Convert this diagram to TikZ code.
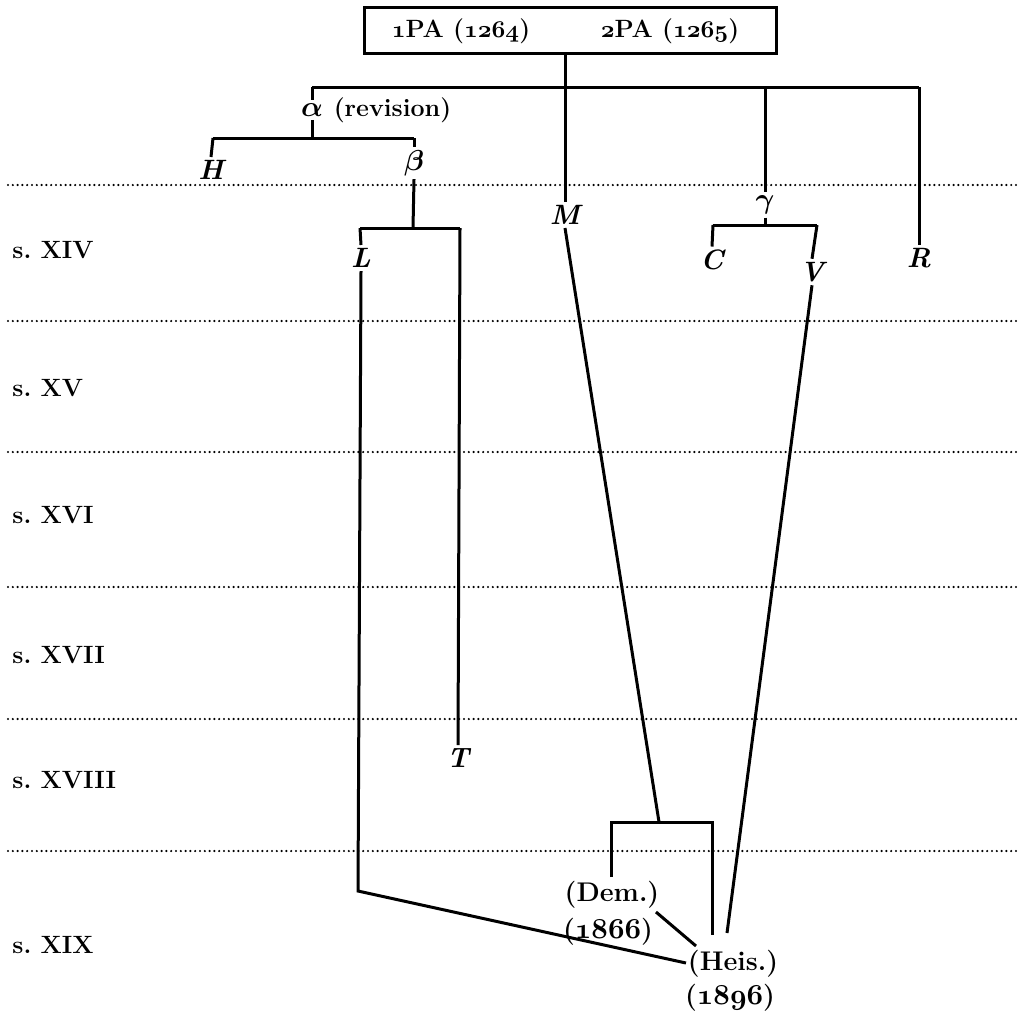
\documentclass[tikz,border=0pt]{standalone}
\usepackage{bm}
\newcommand\osn[1]{{\fontencoding{OML}\fontfamily{cmm}\fontseries{b}\fontshape{it}\selectfont #1}}
\begin{document}
\begin{tikzpicture}[x=0.5pt,y=-0.5pt,
  lbl/.style={inner sep=1.5pt, font=\fontsize{12.5}{14}\selectfont\bfseries},
  big/.style={inner sep=1.5pt, font=\fontsize{13.5}{15}\selectfont\bfseries},
  ms/.style={inner sep=1.5pt, font=\fontsize{14}{16}\selectfont\bfseries\itshape},
  edge/.style={line width=1.5pt},
  era/.style={line width=1.2pt, dash pattern=on 0pt off 2.4pt, line cap=round},
  century/.style={inner sep=0pt, anchor=west, font=\fontsize{12.5}{14}\selectfont\bfseries}]
\useasboundingbox (0,0) rectangle (1021,1014);
\fill[white] (0,0) rectangle (1021,1014);

% century separators
\foreach \y/\n in {185/a,321/b,452/c,587/d,719/e,851/f} {
  \coordinate (e\n l) at (8,\y);
  \coordinate (e\n r) at (1018,\y);
  \draw[era] (e\n l) -- (e\n r);
}
\node[century] (c14) at (12,250) {s.\ XIV};
\node[century] (c15) at (12,388) {s.\ XV};
\node[century] (c16) at (12,515) {s.\ XVI};
\node[century] (c17) at (12,655) {s.\ XVII};
\node[century] (c18) at (12,780) {s.\ XVIII};
\node[century] (c19) at (12,945) {s.\ XIX};

% archetype box
\node[draw, line width=1.5pt, minimum width=206pt, minimum height=23pt, inner sep=0pt] (box) at (570,30) {};
\node[lbl] (pa1) at (461,31) {\osn{1}PA (\osn{1264})};
\node[lbl] (pa2) at (670,31) {\osn{2}PA (\osn{1265})};

% labels
\node[ms] (alpha) at (312,110) {$\bm\alpha$};
\node[lbl, anchor=base west] (rev) at ([xshift=2pt]alpha.base east) {(revision)};
\node[ms] (H) at (211,170) {H};
\node[ms] (beta) at (414,163) {$\bm\beta$};
\node[ms] (M) at (565,215) {M};
\node[ms] (gam) at (765,205) {$\bm\gamma$};
\node[ms] (C) at (712,260) {C};
\node[ms] (V) at (812,272) {V};
\node[ms] (R) at (919,258) {R};
\node[ms] (L) at (361,258) {L};
\node[ms] (T) at (458,758) {T};
\node[big] (dem) at (612,895) {(Dem.)};
\node[big] (d66) at (608,932) {(\osn{1866})};
\node[big] (heis) at (733,964) {(Heis.)};
\node[big] (h96) at (730,998) {(\osn{1896})};

% joints
\coordinate (j0) at (565,53);
\coordinate (bl) at (312,87);
\coordinate (bg) at (765,87);
\coordinate (br) at (919,87);
\coordinate (hb) at (312,138);
\coordinate (hl) at (213,138);
\coordinate (hr) at (414,138);
\coordinate (lb) at (413,228);
\coordinate (ll) at (360,228);
\coordinate (lr) at (460,228);
\coordinate (lc) at (358,891);
\coordinate (le) at (686,963);
\coordinate (mb) at (659,822);
\coordinate (dl) at (611,822);
\coordinate (dr) at (712,822);
\coordinate (dlb) at (611,877);
\coordinate (drb) at (712,935);
\coordinate (dh1) at (656,912);
\coordinate (dh2) at (696,946);
\coordinate (gb) at (765,225);
\coordinate (gl) at (713,225);
\coordinate (gr) at (817,225);
\coordinate (vb) at (727,933);

% connectors
\draw[edge] (j0) -- (M.north);
\draw[edge] (bl) -- (br);
\draw[edge] (bl) -- (alpha.north);
\draw[edge] (alpha.south) -- (hb);
\draw[edge] (hl) -- (hr);
\draw[edge] (hl) -- (H.north);
\draw[edge] (hr) -- (beta.north);
\draw[edge] (beta.south) -- (lb);
\draw[edge] (ll) -- (lr);
\draw[edge] (ll) -- (L.north);
\draw[edge] (L.south) -- (lc) -- (le);
\draw[edge] (lr) -- (T.north);
\draw[edge] (M.south) -- (mb);
\draw[edge] (dlb) -- (dl) -- (dr) -- (drb);
\draw[edge] (dh1) -- (dh2);
\draw[edge] (bg) -- (gam.north);
\draw[edge] (gam.south) -- (gb);
\draw[edge] (gl) -- (gr);
\draw[edge] (gl) -- (C.north);
\draw[edge] (gr) -- (V.north);
\draw[edge] (V.south) -- (vb);
\draw[edge] (br) -- (R.north);
\end{tikzpicture}
\end{document}
